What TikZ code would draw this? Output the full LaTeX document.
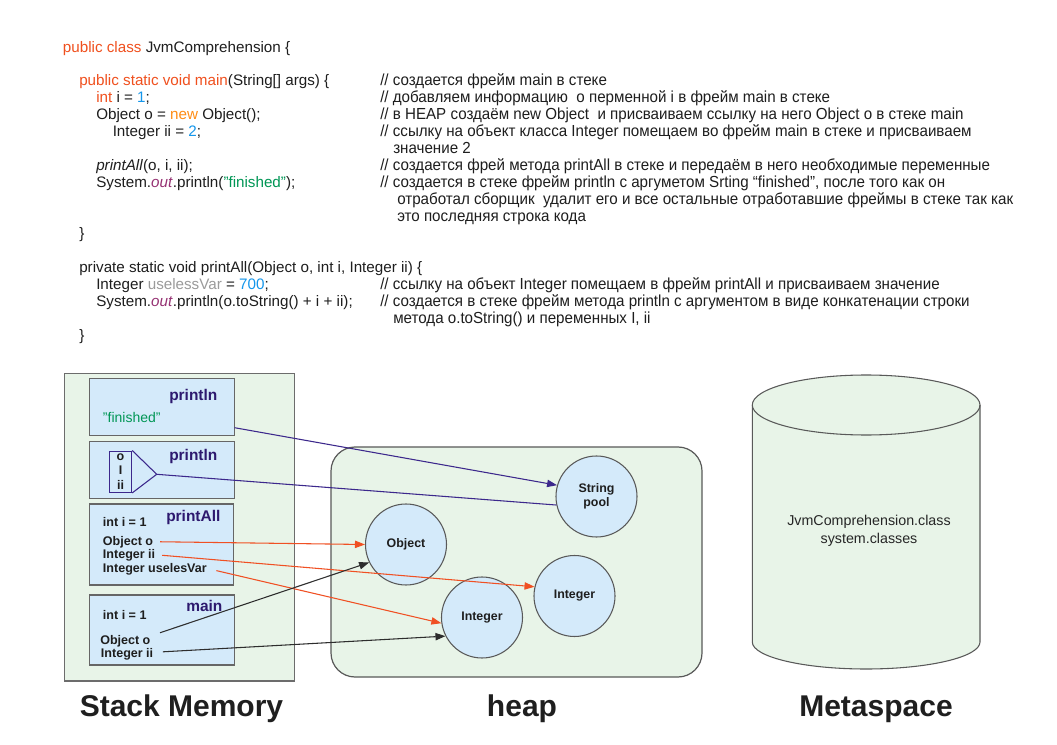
\documentclass[tikz,border=0pt]{standalone}
\usepackage{fontspec}
\setmainfont{Liberation Sans}
\newfontfamily\cmtfont[FakeStretch=0.946]{Liberation Sans}
\usetikzlibrary{arrows.meta}
\definecolor{kw}{RGB}{240,80,30}
\definecolor{kwnew}{RGB}{255,140,20}
\definecolor{num}{RGB}{20,150,235}
\definecolor{outc}{RGB}{150,50,115}
\definecolor{strc}{RGB}{0,150,85}
\definecolor{grayc}{RGB}{155,155,155}
\definecolor{txt}{RGB}{30,30,30}
\definecolor{ttl}{RGB}{45,25,110}
\definecolor{memfill}{RGB}{232,244,232}
\definecolor{framefill}{RGB}{212,234,250}
\definecolor{purpleln}{RGB}{60,40,140}
\definecolor{orangeln}{RGB}{240,80,35}
\definecolor{darkln}{RGB}{45,45,45}
\tikzset{
  code/.style={inner sep=0pt, anchor=base west, font=\fontsize{11.4pt}{13pt}\selectfont, text=txt},
  cmt/.style={inner sep=0pt, anchor=base west, font=\cmtfont\fontsize{12pt}{13pt}\selectfont, text=txt},
  mem/.style={draw=gray!85!black, fill=memfill, line width=0.9pt, inner sep=0pt},
  framebox/.style={draw=black!60, fill=framefill, line width=0.8pt, inner sep=0pt, minimum width=108.5pt},
  ftitle/.style={inner sep=0pt, anchor=base west, font=\bfseries\fontsize{11.6pt}{13pt}\selectfont, text=ttl},
  fvar/.style={inner sep=0pt, anchor=base west, font=\bfseries\fontsize{9.4pt}{11pt}\selectfont, text=txt},
  obj/.style={circle, draw=black!65, fill=framefill, line width=0.8pt, minimum size=60.75pt, inner sep=0pt, align=center, font=\bfseries\fontsize{9.3pt}{10.5pt}\selectfont, text=txt},
  biglabel/.style={inner sep=0pt, anchor=base, font=\bfseries\fontsize{22.5pt}{26pt}\selectfont, text=black!88},
  parr/.style={draw=purpleln, line width=0.8pt, -{Triangle[length=7.5pt,width=5.5pt]}},
  pline/.style={draw=purpleln, line width=0.8pt},
  oarr/.style={draw=orangeln, line width=0.8pt, -{Triangle[length=7.5pt,width=5.5pt]}},
  darr/.style={draw=darkln, line width=0.8pt, -{Triangle[length=7.5pt,width=5.5pt]}},
}
\begin{document}
\begin{tikzpicture}[x=0.75pt,y=-0.75pt]
\fill[white] (0,0) rectangle (1057,745);
\useasboundingbox (0,0) rectangle (1057,745);

% ---------- code ----------
\node[code] (c1) at (62.7,52.5) {\textcolor{kw}{public class} JvmComprehension \{};
\node[code] (c2) at (79,86) {\textcolor{kw}{public static void main}(String[] args) \{};
\node[code] (c3) at (96,103) {\textcolor{kw}{int} i = \textcolor{num}{1};};
\node[code] (c4) at (96,120) {Object o = \textcolor{kwnew}{new} Object();};
\node[code] (c5) at (112.5,137) {Integer ii = \textcolor{num}{2};};
\node[code] (c6) at (96,171) {\textit{printAll}(o, i, ii);};
\node[code] (c7) at (96,188) {System.\textcolor{outc}{\textit{out}}.println(\textcolor{strc}{"finished"});};
\node[code] (c8) at (79,239) {\}};
\node[code] (c9) at (79,273) {private static void printAll(Object o, int i, Integer ii) \{};
\node[code] (c10) at (96,290) {Integer \textcolor{grayc}{uselessVar} = \textcolor{num}{700};};
\node[code] (c11) at (96,307) {System.\textcolor{outc}{\textit{out}}.println(o.toString() + i + ii);};
\node[code] (c12) at (79,340) {\}};

% ---------- comments ----------
\node[cmt] (m1) at (380,86) {// создается фрейм main в стеке};
\node[cmt] (m2) at (380,103) {// добавляем информацию\ \ о перменной i в фрейм main в стеке};
\node[cmt] (m3) at (380,120) {// в HEAP создаём new Object\ \ и присваиваем ссылку на него Object o в стеке main};
\node[cmt] (m4) at (380,137) {// ссылку на объект класса Integer помещаем во фрейм main в стеке и присваиваем};
\node[cmt] (m5) at (393,154) {значение 2};
\node[cmt] (m6) at (380,171) {// создается фрей метода printAll в стеке и передаём в него необходимые переменные};
\node[cmt] (m7) at (380,188) {// создается в стеке фрейм println с аргуметом Srting “finished”, после того как он};
\node[cmt] (m8) at (397,205) {отработал сборщик\ \ удалит его и все остальные отработавшие фреймы в стеке так как};
\node[cmt] (m9) at (397,222) {это последняя строка кода};
\node[cmt] (m10) at (380,290) {// ссылку на объект Integer помещаем в фрейм printAll и присваиваем значение};
\node[cmt] (m11) at (380,307) {// создается в стеке фрейм метода println с аргументом в виде конкатенации строки};
\node[cmt] (m12) at (393,324) {метода o.toString() и переменных I, ii};

% ---------- stack ----------
\node[mem, minimum width=172.5pt, minimum height=230.8pt] (stack) at (179.3,527.2) {};
\node[framebox, minimum height=42.5pt] (f1) at (161.7,406.7) {};
\node[framebox, minimum height=42.5pt] (f2) at (161.7,470) {};
\node[framebox, minimum height=60.75pt] (fpa) at (161.5,544.5) {};
\node[framebox, minimum height=52.5pt] (fmain) at (161.7,630) {};

\node[ftitle] (t1) at (169,400.5) {println};
\node[inner sep=0pt, anchor=base west, font=\fontsize{10.5pt}{12pt}\selectfont, text=strc] (fin) at (102.7,422) {"finished"};

\node[ftitle] (t2) at (169,460.5) {println};
\node[draw=purpleln, line width=0.8pt, inner sep=0pt, minimum width=16.8pt, minimum height=31pt] (obox) at (120.5,471.7) {};
\node[fvar, anchor=base] (bo) at (120.5,460) {o};
\node[fvar, anchor=base] (bi) at (120.5,474) {I};
\node[fvar, anchor=base] (bii) at (120.5,489) {ii};
\coordinate (tip) at (156.7,474.3);
\draw[pline] (obox.north east) -- (tip) -- (obox.south east);

\node[ftitle] (t3) at (166,521) {printAll};
\node[fvar] (pai) at (102.7,526.5) {int i = 1};
\node[fvar] (pao) at (102.7,545) {Object o};
\node[fvar] (paii) at (102.7,558.5) {Integer ii};
\node[fvar] (pau) at (102.7,572.5) {Integer uselesVar};

\node[ftitle] (t4) at (186,611) {main};
\node[fvar] (mi) at (102.7,619.5) {int i = 1};
\node[fvar] (mo) at (100,644) {Object o};
\node[fvar] (mii) at (100.7,657.7) {Integer ii};

% ---------- heap ----------
\node[mem, draw=black!65, rounded corners=18pt, minimum width=278.25pt, minimum height=172.5pt] (heap) at (516.5,562) {};
\node[obj] (sp) at (596.5,496.5) {String\\pool};
\node[obj] (objc) at (406,544.5) {Object};
\node[obj] (intR) at (574.5,596) {Integer};
\node[obj] (intB) at (482,617.5) {Integer};

% ---------- metaspace ----------
\fill[memfill] (752.3,405) -- (752.3,642) arc (180:0:113.85 and 27) -- (980,405) arc (0:-180:113.85 and 30) -- cycle;
\draw[black!65, line width=0.8pt] (752.3,405) -- (752.3,642) arc (180:0:113.85 and 27) -- (980,405);
\draw[black!65, line width=0.8pt] (866.15,405) ellipse (113.85 and 30);
\node[inner sep=0pt, align=center, font=\fontsize{10.7pt}{13.5pt}\selectfont, text=black!85] (metatext) at (869,531) {JvmComprehension.class\\system.classes};

% ---------- labels ----------
\node[biglabel] (lstack) at (181.5,716) {Stack Memory};
\node[biglabel] (lheap) at (522,716) {heap};
\node[biglabel] (lmeta) at (876,716) {Metaspace};

% ---------- connectors ----------
\draw[parr] ([yshift=-15.75pt]f1.east) -- (sp.164.5);
\draw[pline] (tip) -- (sp.192);
\draw[oarr] ([xshift=5pt]pao.east) -- (objc.west);
\draw[oarr] ([xshift=5pt]paii.east) -- (intR.167);
\draw[oarr] ([xshift=7pt,yshift=-1pt]pau.east) -- (intB.188);
\draw[darr] ([xshift=7pt,yshift=6pt]mo.east) -- (objc.206);
\draw[darr] ([xshift=7pt,yshift=2pt]mii.east) -- (intB.207);
\end{tikzpicture}
\end{document}
